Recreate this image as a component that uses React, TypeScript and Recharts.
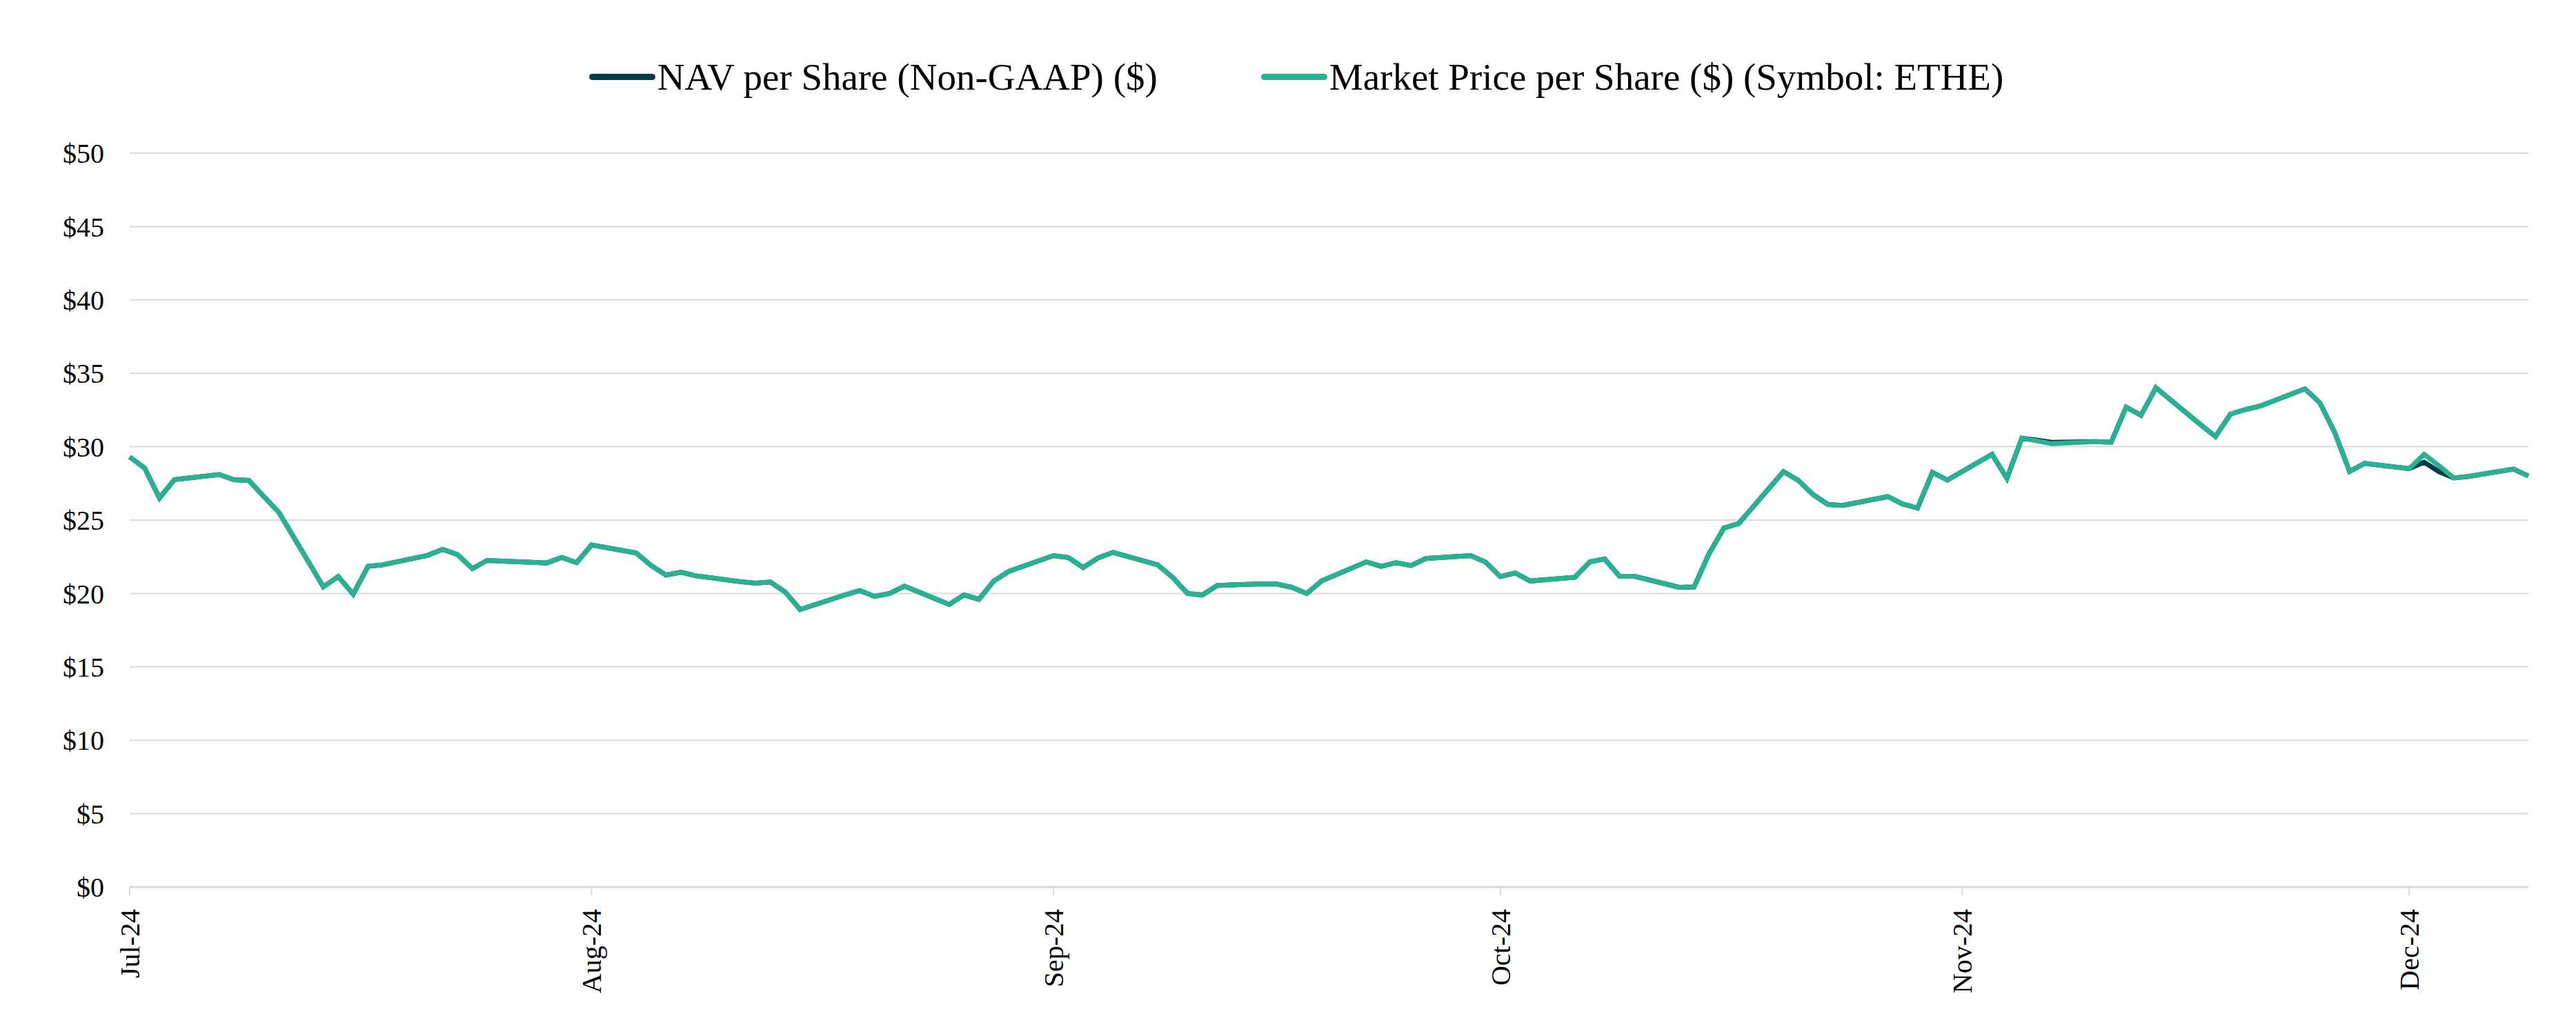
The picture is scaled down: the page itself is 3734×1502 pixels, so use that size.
import { LineChart, Line, XAxis, YAxis, CartesianGrid, Legend } from 'recharts';

const NAV_COLOR = '#053b4b';
const PRICE_COLOR = '#2ab092';
const GRID_COLOR = '#d9d9d9';
const FONT = '"Liberation Serif", "Times New Roman", serif';

const NAV_NAME = 'NAV per Share (Non-GAAP) ($)';
const PRICE_NAME = 'Market Price per Share ($) (Symbol: ETHE)';

const START = '2024-07-02';
const END = '2024-12-10';

// trading days (weekdays) shown on the chart
const dates = [
  '2024-07-02', '2024-07-03', '2024-07-04', '2024-07-05',
  '2024-07-08', '2024-07-09', '2024-07-10', '2024-07-11', '2024-07-12',
  '2024-07-15', '2024-07-16', '2024-07-17', '2024-07-18', '2024-07-19',
  '2024-07-22', '2024-07-23', '2024-07-24', '2024-07-25', '2024-07-26',
  '2024-07-29', '2024-07-30', '2024-07-31', '2024-08-01', '2024-08-02',
  '2024-08-05', '2024-08-06', '2024-08-07', '2024-08-08', '2024-08-09',
  '2024-08-12', '2024-08-13', '2024-08-14', '2024-08-15', '2024-08-16',
  '2024-08-19', '2024-08-20', '2024-08-21', '2024-08-22', '2024-08-23',
  '2024-08-26', '2024-08-27', '2024-08-28', '2024-08-29', '2024-08-30',
  '2024-09-02', '2024-09-03', '2024-09-04', '2024-09-05', '2024-09-06',
  '2024-09-09', '2024-09-10', '2024-09-11', '2024-09-12', '2024-09-13',
  '2024-09-16', '2024-09-17', '2024-09-18', '2024-09-19', '2024-09-20',
  '2024-09-23', '2024-09-24', '2024-09-25', '2024-09-26', '2024-09-27',
  '2024-09-30', '2024-10-01', '2024-10-02', '2024-10-03', '2024-10-04',
  '2024-10-07', '2024-10-08', '2024-10-09', '2024-10-10', '2024-10-11',
  '2024-10-14', '2024-10-15', '2024-10-16', '2024-10-17', '2024-10-18',
  '2024-10-21', '2024-10-22', '2024-10-23', '2024-10-24', '2024-10-25',
  '2024-10-28', '2024-10-29', '2024-10-30', '2024-10-31', '2024-11-01',
  '2024-11-04', '2024-11-05', '2024-11-06', '2024-11-07', '2024-11-08',
  '2024-11-11', '2024-11-12', '2024-11-13', '2024-11-14', '2024-11-15',
  '2024-11-18', '2024-11-19', '2024-11-20', '2024-11-21', '2024-11-22',
  '2024-11-25', '2024-11-26', '2024-11-27', '2024-11-28', '2024-11-29',
  '2024-12-02', '2024-12-03', '2024-12-04', '2024-12-05', '2024-12-06',
  '2024-12-09', '2024-12-10',
];

const marketPrice = [
  29.3, 28.55, 26.5, 27.75,
  28.1, 27.75, 27.7, 26.6, 25.55,
  20.45, 21.15, 19.95, 21.85, 21.95,
  22.6, 23.0, 22.65, 21.7, 22.25,
  22.12, 22.08, 22.45, 22.1, 23.3,
  22.75, 21.9, 21.25, 21.45, 21.2,
  20.8, 20.7, 20.78, 20.1, 18.9,
  19.9, 20.2, 19.8, 20.0, 20.5,
  19.25, 19.9, 19.6, 20.85, 21.5,
  22.58, 22.45, 21.77, 22.42, 22.8,
  21.95, 21.1, 20.0, 19.9, 20.55,
  20.65, 20.64, 20.42, 20.0, 20.85,
  22.15, 21.85, 22.1, 21.9, 22.38,
  22.58, 22.14, 21.15, 21.4, 20.85,
  21.1, 22.15, 22.35, 21.17, 21.17,
  20.42, 20.44, 22.7, 24.45, 24.77,
  28.3, 27.7, 26.73, 26.06, 26.0,
  26.6, 26.1, 25.82, 28.25, 27.72,
  29.48, 27.84, 30.58, 30.4, 30.2,
  30.34, 30.31, 32.69, 32.14, 34.02,
  31.5, 30.69, 32.22, 32.53, 32.77,
  33.94, 33.0, 30.97, 28.31, 28.86,
  28.5, 29.48, 28.7, 27.87, 27.97,
  28.47, 28.0,
];

const navPerShare = [
  29.3, 28.55, 26.5, 27.75,
  28.1, 27.75, 27.7, 26.6, 25.55,
  20.45, 21.15, 19.95, 21.85, 21.95,
  22.6, 23.0, 22.65, 21.7, 22.25,
  22.12, 22.08, 22.45, 22.1, 23.3,
  22.75, 21.9, 21.25, 21.45, 21.2,
  20.8, 20.7, 20.78, 20.1, 18.9,
  19.9, 20.2, 19.8, 20.0, 20.5,
  19.25, 19.9, 19.6, 20.85, 21.5,
  22.58, 22.45, 21.77, 22.42, 22.8,
  21.95, 21.1, 20.0, 19.9, 20.55,
  20.65, 20.64, 20.42, 20.0, 20.85,
  22.15, 21.85, 22.1, 21.9, 22.38,
  22.58, 22.14, 21.15, 21.4, 20.85,
  21.1, 22.15, 22.35, 21.17, 21.17,
  20.42, 20.44, 22.7, 24.45, 24.77,
  28.3, 27.7, 26.73, 26.06, 26.0,
  26.6, 26.1, 25.82, 28.25, 27.72,
  29.48, 27.84, 30.58, 30.45, 30.3,
  30.34, 30.31, 32.69, 32.14, 34.02,
  31.5, 30.69, 32.22, 32.53, 32.77,
  33.94, 33.0, 30.97, 28.31, 28.86,
  28.5, 28.95, 28.3, 27.87, 27.97,
  28.47, 28.0,
];

const monthTicks = ['2024-07-02', '2024-08-02', '2024-09-02', '2024-10-02', '2024-11-02', '2024-12-02'];
const monthLabels = ['Jul-24', 'Aug-24', 'Sep-24', 'Oct-24', 'Nov-24', 'Dec-24'];
const yTicks = [0, 5, 10, 15, 20, 25, 30, 35, 40, 45, 50];

const legendItems = [
  { name: NAV_NAME, color: NAV_COLOR },
  { name: PRICE_NAME, color: PRICE_COLOR },
];

const dayOf = (s: string) => Math.round((Date.parse(s) - Date.parse(START)) / 86400000);

const data = dates.map((d, i) => ({
  day: dayOf(d),
  nav: navPerShare[i],
  price: marketPrice[i],
}));

const tickDays = monthTicks.map(dayOf);

function MonthTick({ x, y, payload }: any) {
  const label = monthLabels[tickDays.indexOf(payload.value)];
  return (
    <text
      x={x}
      y={y}
      transform={`rotate(-90 ${x} ${y})`}
      textAnchor="end"
      dy="0.35em"
      fontSize={40}
      fontFamily={FONT}
      fill="#000"
    >
      {label}
    </text>
  );
}

function LegendContent() {
  return (
    <div style={{ display: 'flex', justifyContent: 'center', gap: 150, paddingLeft: 24 }}>
      {legendItems.map((it) => (
        <div key={it.name} style={{ display: 'flex', alignItems: 'center', height: 55 }}>
          <span
            style={{
              display: 'inline-block',
              width: 96,
              height: 9,
              borderRadius: 5,
              background: it.color,
              marginRight: 3,
            }}
          />
          <span style={{ fontFamily: FONT, fontSize: 55, lineHeight: '55px', color: '#000' }}>{it.name}</span>
        </div>
      ))}
    </div>
  );
}

export default function App() {
  return (
    <LineChart width={3718} height={1486} data={data} margin={{ top: 214, right: 61, bottom: 0, left: 0 }}>
      <CartesianGrid vertical={false} stroke={GRID_COLOR} strokeWidth={2} />
      <XAxis
        dataKey="day"
        type="number"
        domain={[0, dayOf(END)]}
        ticks={tickDays}
        interval={0}
        height={208}
        tick={<MonthTick />}
        tickSize={12}
        tickMargin={20}
        tickLine={{ stroke: GRID_COLOR, strokeWidth: 2 }}
        axisLine={{ stroke: GRID_COLOR, strokeWidth: 3 }}
      />
      <YAxis
        domain={[0, 50]}
        ticks={yTicks}
        width={180}
        axisLine={false}
        tickLine={false}
        tickSize={0}
        tickMargin={37}
        tickFormatter={(v: number) => `$${v}`}
        tick={{ fontSize: 40, fontFamily: FONT, fill: '#000' }}
      />
      <Legend
        layout="horizontal"
        verticalAlign="middle"
        align="center"
        width={3718}
        wrapperStyle={{ top: 76, left: 0 }}
        content={<LegendContent />}
      />
      <Line
        name={NAV_NAME}
        dataKey="nav"
        type="linear"
        stroke={NAV_COLOR}
        strokeWidth={7}
        dot={false}
        activeDot={false}
        isAnimationActive={false}
      />
      <Line
        name={PRICE_NAME}
        dataKey="price"
        type="linear"
        stroke={PRICE_COLOR}
        strokeWidth={7}
        dot={false}
        activeDot={false}
        isAnimationActive={false}
      />
    </LineChart>
  );
}
